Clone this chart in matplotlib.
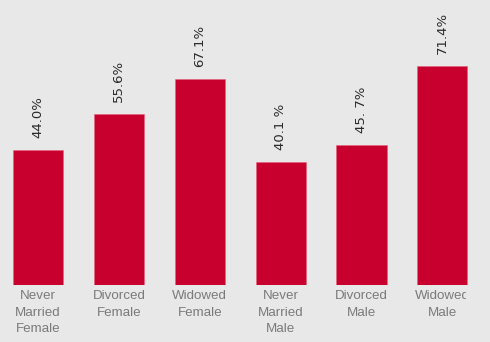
import matplotlib
matplotlib.use('Agg')
from matplotlib import pyplot as plt
from matplotlib.patches import Rectangle
from matplotlib.transforms import blended_transform_factory

categories = ['Never\nMarried\nFemale', 'Divorced\nFemale', 'Widowed\nFemale',
              'Never\nMarried\nMale', 'Divorced\nMale', 'Widowed\nMale']
values = [44.0, 55.6, 67.1, 40.1, 45.7, 71.4]
value_labels = ['44.0%', '55.6%', '67.1%', '40.1 %', '45. 7%', '71.4%']

bg = '#e8e8e8'
bar_color = '#c8002d'

fig = plt.figure(figsize=(4.9, 3.42), dpi=100, facecolor=bg)
ax = fig.add_axes([0, 1 - 285 / 342, 1, 285 / 342])
ax.set_facecolor(bg)

x = list(range(len(categories)))
ax.bar(x, values, width=0.62, color=bar_color, edgecolor='#e8607a', linewidth=0.4)

for xi, v, lab in zip(x, values, value_labels):
    ax.annotate(lab, (xi, v), xytext=(0, 8.5), textcoords='offset points',
                rotation=90, ha='center', va='bottom', fontsize=9.5,
                color='#2a2a2a', family='DejaVu Sans')

ax.set_xlim(-0.47, 5.59)
ax.set_ylim(0, 92.8)
ax.set_xticks([])
ax.set_yticks([])
for s in ax.spines.values():
    s.set_visible(False)

# category labels under the bars
trans = blended_transform_factory(ax.transData, ax.transAxes)
for xi, cat in zip(x, categories):
    ax.text(xi, -0.018, cat, transform=trans, ha='center', va='top',
            fontsize=9.6, color='#7a7a7a', family='Liberation Sans',
            linespacing=1.52)

# the last label is cut off at the right in the original
fig.add_artist(Rectangle((466 / 490, 0), 1, 56 / 342, transform=fig.transFigure,
                         facecolor=bg, edgecolor='none', zorder=10))

fig.savefig('out.png', dpi=100, facecolor=bg)
